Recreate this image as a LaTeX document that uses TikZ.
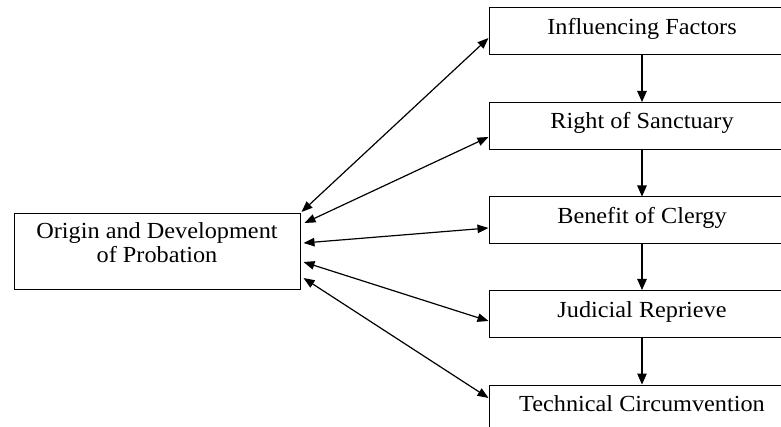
\documentclass[tikz,border=0pt]{standalone}
\usepackage{fontspec}
\setmainfont{Liberation Serif}[FakeStretch=1.055]
\usetikzlibrary{arrows.meta,calc}
\begin{document}
\begin{tikzpicture}[x=1pt,y=-1pt,
  labelfont/.style={font=\fontsize{23}{24}\selectfont},
  stagebox/.style={draw,line width=1pt,minimum width=306pt,minimum height=47pt,
    inner sep=0pt,text height=11pt,text depth=5pt,labelfont},
  flow/.style={line width=1.1pt,-{Triangle[length=11pt,width=9.5pt]}},
  link/.style={line width=1.2pt,
    {Triangle[length=11pt,width=8.5pt]}-{Triangle[length=11pt,width=8.5pt]}},
]
\fill[white] (0,0) rectangle (781,427);
\useasboundingbox (0,0) rectangle (781,427);

% chain of historical stages on the right
\begin{scope}
  \clip (0,0) rectangle (781,427);
  \node[stagebox] (f1) at (642,31.5)  {Influencing Factors};
  \node[stagebox] (f2) at (642,126)   {Right of Sanctuary};
  \node[stagebox] (f3) at (642,220.5) {Benefit of Clergy};
  \node[stagebox] (f4) at (642,314)   {Judicial Reprieve};
  \node[stagebox] (f5) at (642,408.5) {Technical Circumvention};
  \draw[flow] (f1.south) -- (f2.north);
  \draw[flow] (f2.south) -- (f3.north);
  \draw[flow] (f3.south) -- (f4.north);
  \draw[flow] (f4.south) -- (f5.north);
\end{scope}

% central topic box
\node[draw,line width=1pt,minimum width=286pt,minimum height=76pt,inner sep=0pt]
  (origin) at (157,252) {};
\node[align=center,labelfont,inner sep=0pt] (origintext) at (157,243)
  {Origin and Development\\of Probation};

% two-way links between the topic and each stage
\draw[link] ($(origin.east)+(1,-40)$) -- ($(f1.west)+(0,6.5)$);
\draw[link] ($(origin.east)+(4,-29)$) -- ($(f2.west)+(0,11)$);
\draw[link] ($(origin.east)+(3,-9)$)  -- ($(f3.west)+(0,7.5)$);
\draw[link] ($(origin.east)+(3,10)$)  -- ($(f4.west)+(0,7)$);
\draw[link] ($(origin.east)+(3,26)$)  -- ($(f5.west)+(0,-10.5)$);
\end{tikzpicture}
\end{document}
